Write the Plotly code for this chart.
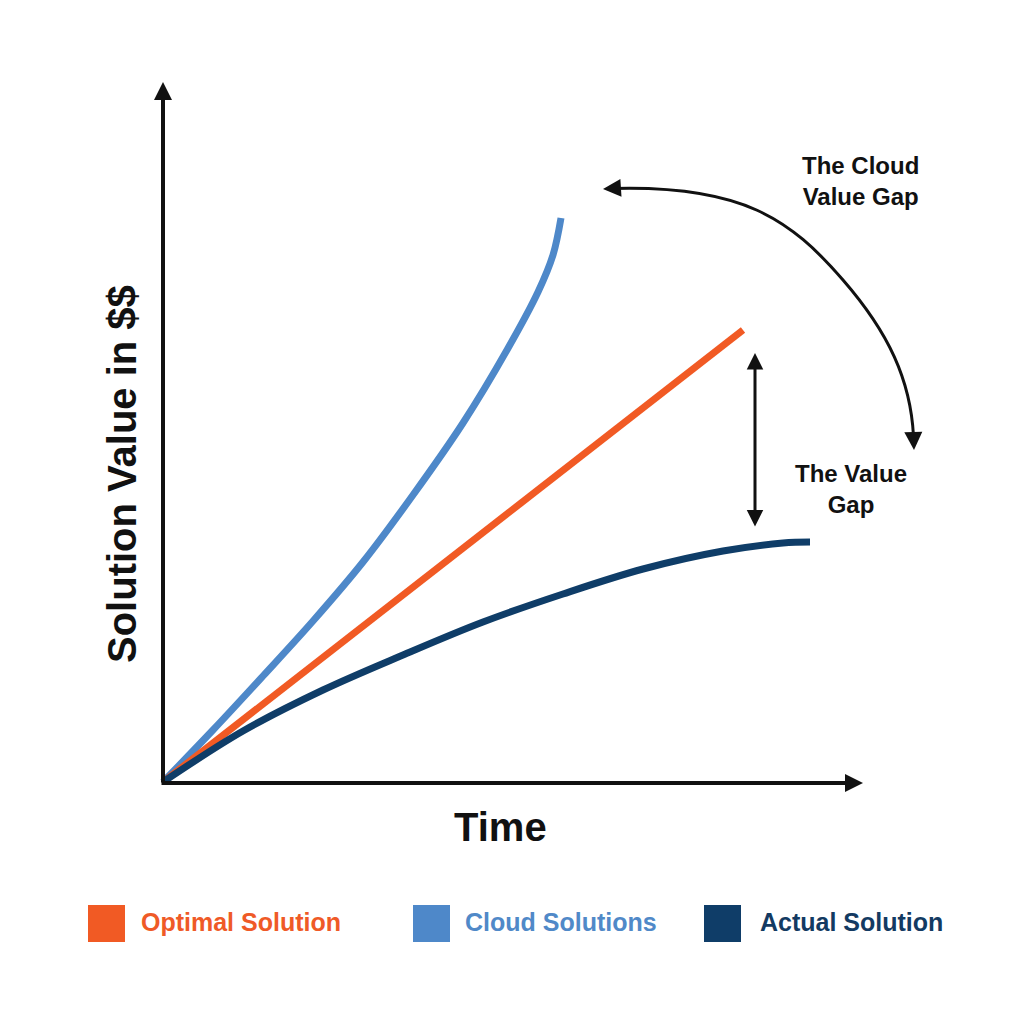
import plotly.graph_objects as go

# ---- data (units: relative time / value) ----
cloud_x = [0, 50, 100, 150, 200, 250, 300, 344, 375, 390, 398]
cloud_y = [0, 52, 106, 161, 220, 287, 359, 432, 490, 527, 564]

optimal_x = [0, 580]
optimal_y = [0, 452]

actual_x = [0, 80, 160, 240, 320, 400, 480, 560, 620, 647]
actual_y = [0, 51, 92, 127, 160, 188, 213, 231, 239, 240]

series_names = ["Optimal Solution", "Cloud Solutions", "Actual Solution"]
series_colors = ["#F15A24", "#4E88C9", "#0F3D68"]
legend_text_colors = ["#EF5A27", "#5089C8", "#133A62"]

C_OPT, C_CLOUD, C_ACT = series_colors
INK = "#111111"
FONT = "Liberation Sans"

fig = go.Figure()

fig.add_trace(go.Scatter(x=cloud_x, y=cloud_y, mode="lines",
                         line=dict(color=C_CLOUD, width=7, shape="spline", smoothing=1),
                         name=series_names[1], hoverinfo="skip"))
fig.add_trace(go.Scatter(x=optimal_x, y=optimal_y, mode="lines",
                         line=dict(color=C_OPT, width=7),
                         name=series_names[0], hoverinfo="skip"))
fig.add_trace(go.Scatter(x=actual_x, y=actual_y, mode="lines",
                         line=dict(color=C_ACT, width=7, shape="spline", smoothing=1),
                         name=series_names[2], hoverinfo="skip"))

shapes = []
# curved "cloud value gap" arc (two cubic segments, data coordinates)
shapes.append(dict(type="path", xref="x", yref="y",
                   path="M450,593.5 C580,597 627.6,562.5 680,502 C725.9,449.1 747.5,402 750.5,346",
                   line=dict(color=INK, width=3)))

ann = []
# axes arrows
ann.append(dict(x=0, y=700, ax=0, ay=-2, xref="x", yref="y", axref="x", ayref="y",
                showarrow=True, arrowhead=2, arrowsize=0.9, arrowwidth=4,
                arrowcolor=INK, standoff=0, text=""))
ann.append(dict(x=700, y=-1, ax=-3, ay=-1, xref="x", yref="y", axref="x", ayref="y",
                showarrow=True, arrowhead=2, arrowsize=0.9, arrowwidth=4,
                arrowcolor=INK, standoff=0, text=""))
# value gap double arrow
ann.append(dict(x=592, y=429, ax=592, ay=254, xref="x", yref="y", axref="x", ayref="y",
                showarrow=True, arrowhead=2, startarrowhead=2, arrowside="end+start",
                arrowsize=1.1, startarrowsize=1.1, arrowwidth=3,
                arrowcolor=INK, standoff=0, startstandoff=0, text=""))
# arc arrow heads
ann.append(dict(x=440, y=593, ax=456, ay=594,
                xref="x", yref="y", axref="x", ayref="y",
                showarrow=True, arrowhead=2, arrowsize=1.2, arrowwidth=3,
                arrowcolor=INK, standoff=0, text=""))
ann.append(dict(x=751, y=332, ax=750.3, ay=350,
                xref="x", yref="y", axref="x", ayref="y",
                showarrow=True, arrowhead=2, arrowsize=1.2, arrowwidth=3,
                arrowcolor=INK, standoff=0, text=""))

# text labels
ann.append(dict(x=697, y=601, xref="x", yref="y", showarrow=False,
                text="The Cloud<br>Value Gap", align="center",
                font=dict(family=FONT, size=24, color=INK, weight=700)))
ann.append(dict(x=688, y=293, xref="x", yref="y", showarrow=False,
                text="The Value<br>Gap", align="center",
                font=dict(family=FONT, size=24, color=INK, weight=700)))
ann.append(dict(x=337, y=-45, xref="x", yref="y", showarrow=False,
                text="Time", font=dict(family=FONT, size=40, color=INK, weight=700)))
ann.append(dict(x=-41, y=308, xref="x", yref="y", showarrow=False, textangle=-90,
                text="Solution Value in $$", font=dict(family=FONT, size=40, color=INK, weight=700)))

# legend (manual)
sq_left = [-75, 250, 541]
txt_left = [-24, 300, 595]
for i in range(3):
    shapes.append(dict(type="rect", xref="x", yref="y",
                       x0=sq_left[i], x1=sq_left[i] + 37, y0=-160, y1=-123,
                       fillcolor=series_colors[i], line=dict(width=0)))
    ann.append(dict(x=txt_left[i], y=-140, xref="x", yref="y", showarrow=False,
                    xanchor="left", yanchor="middle", text=series_names[i],
                    font=dict(family=FONT, size=25, color=legend_text_colors[i], weight=700)))

fig.update_layout(
    width=1016, height=1016,
    margin=dict(l=0, r=0, t=0, b=0),
    paper_bgcolor="white", plot_bgcolor="white",
    showlegend=False,
    xaxis=dict(range=[-155, 861], visible=False, fixedrange=True),
    yaxis=dict(range=[-242, 774], visible=False, fixedrange=True),
    annotations=ann, shapes=shapes,
)

fig.write_html("out.html")
